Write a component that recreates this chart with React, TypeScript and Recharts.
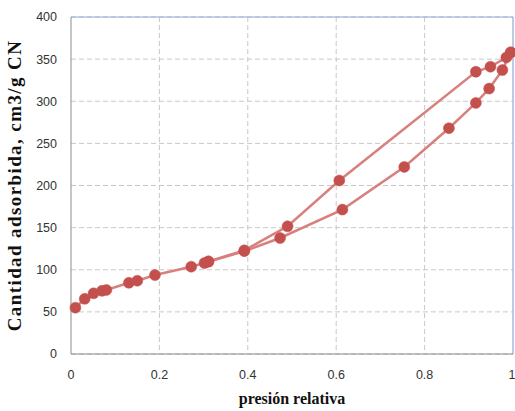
import {
  LineChart,
  Line,
  CartesianGrid,
  XAxis,
  YAxis,
  ReferenceLine,
  Label,
} from 'recharts';

// adsorption branch (presión relativa, cm3/g)
const adsP = [0.01, 0.031, 0.051, 0.07, 0.08, 0.131, 0.15, 0.19, 0.272, 0.302, 0.311, 0.392, 0.473, 0.614, 0.754, 0.855, 0.916, 0.946, 0.976, 0.995];
const adsV = [55, 65.5, 72, 75, 76, 84.5, 87, 93.7, 103.6, 108, 109.5, 122, 137.7, 171.4, 222, 268, 298, 315, 337, 358];

// desorption branch
const desP = [0.995, 0.985, 0.949, 0.916, 0.607, 0.49, 0.392, 0.311];
const desV = [358, 352, 341, 335, 206, 151.6, 123, 110];

const xTicks = [0, 0.2, 0.4, 0.6, 0.8, 1];
const yTicks = [0, 50, 100, 150, 200, 250, 300, 350, 400];

const adsorption = adsP.map((p, i) => ({ p, v: adsV[i] }));
const desorption = desP.map((p, i) => ({ p, v: desV[i] }));

const LINE = '#d8807d';
const MARK = '#c4504e';
const tickStyle = { fontSize: 12.5, fill: '#333', fontFamily: '"Liberation Sans", Arial, sans-serif' };

const App = () => {
  return (
    <div style={{ position: 'absolute', left: 0, top: 0, width: 515, height: 411, background: '#fff' }}>
      <LineChart
        width={515}
        height={411}
        margin={{ top: 17, right: 2, left: 0, bottom: 27 }}
      >
        <CartesianGrid
          stroke="#c8c8c8"
          strokeDasharray="5 3"
          verticalValues={[0.2, 0.4, 0.6, 0.8]}
        />

        <XAxis
          type="number"
          dataKey="p"
          domain={[0, 1]}
          ticks={xTicks}
          height={30}
          tick={tickStyle}
          tickLine={false}
          tickMargin={10}
          axisLine={{ stroke: '#8c8c8c' }}
          allowDuplicatedCategory={false}
        >
          <Label
            value="presión relativa"
            position="bottom"
            offset={9}
            style={{ fontFamily: '"Liberation Serif", "Times New Roman", serif', fontWeight: 'bold', fontSize: 16, fill: '#111' }}
          />
        </XAxis>

        <YAxis
          type="number"
          domain={[0, 400]}
          ticks={yTicks}
          width={71}
          tick={tickStyle}
          tickLine={false}
          tickMargin={8}
          axisLine={{ stroke: '#8c8c8c' }}
        >
          <Label
            value="Cantidad  adsorbida,  cm3/g CN"
            angle={-90}
            position="insideLeft"
            offset={14}
            style={{ textAnchor: 'middle', fontFamily: '"Liberation Serif", "Times New Roman", serif', fontWeight: 'bold', fontSize: 19, letterSpacing: 1.4, fill: '#111' }}
          />
        </YAxis>

        <ReferenceLine y={400} stroke="#8eaadb" strokeWidth={1.2} />
        <ReferenceLine x={1} stroke="#8eaadb" strokeWidth={1.2} />

        <Line
          data={adsorption}
          dataKey="v"
          type="linear"
          stroke={LINE}
          strokeWidth={2.5}
          dot={{ r: 5.5, fill: MARK, stroke: MARK, strokeWidth: 0.5 }}
          isAnimationActive={false}
        />
        <Line
          data={desorption}
          dataKey="v"
          type="linear"
          stroke={LINE}
          strokeWidth={2.5}
          dot={{ r: 5.5, fill: MARK, stroke: MARK, strokeWidth: 0.5 }}
          isAnimationActive={false}
        />
      </LineChart>
    </div>
  );
};

export default App;
